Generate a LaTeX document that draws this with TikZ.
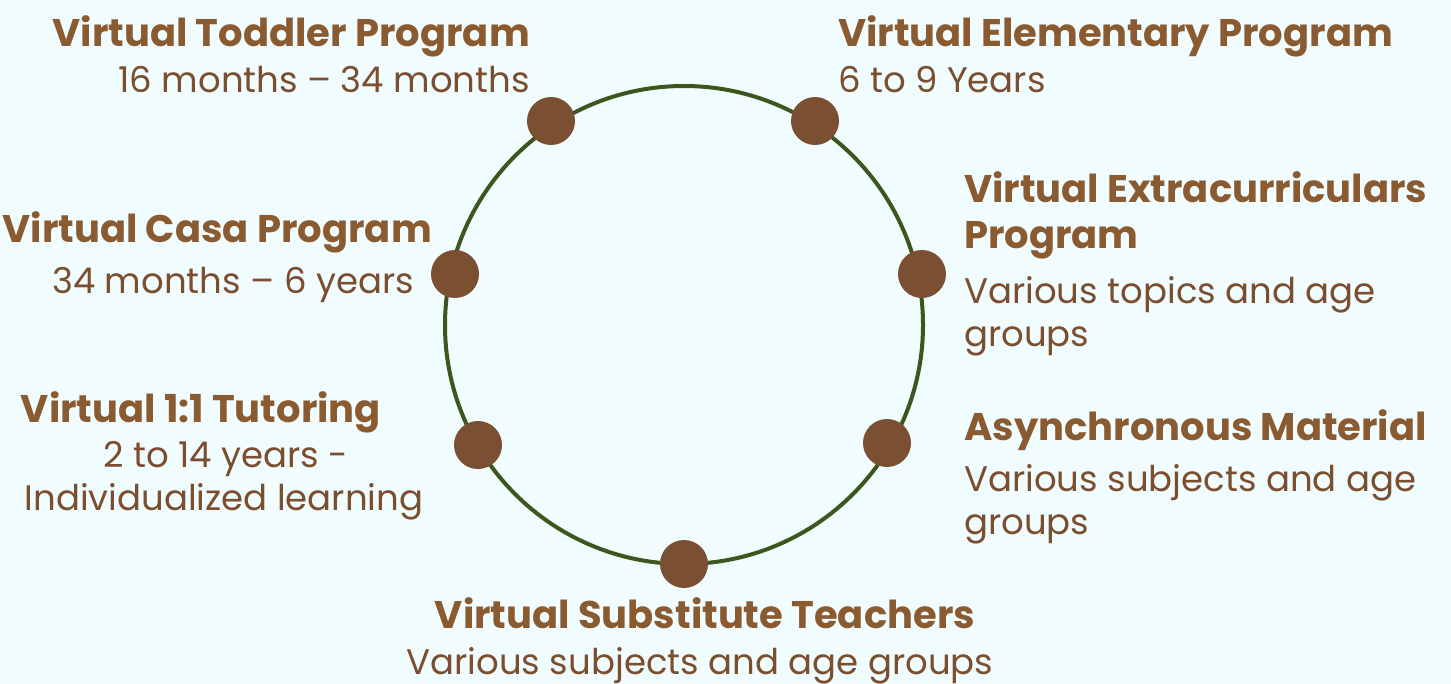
\documentclass[tikz,border=0pt]{standalone}
\usepackage{fontspec}
\setmainfont{Poppins}
\usepackage{tikz}
\definecolor{bgcol}{HTML}{F0FCFD}
\definecolor{titlecol}{HTML}{8A5A30}
\definecolor{subcol}{HTML}{7A4E2F}
\definecolor{dotcol}{HTML}{7A4F32}
\definecolor{ringcol}{HTML}{3C561E}
\begin{document}
\begin{tikzpicture}[x=1pt, y=-1pt,
    title/.style={inner sep=0pt, text=titlecol, font=\fontsize{38.5}{44}\selectfont\bfseries},
    sub/.style={inner sep=0pt, text=subcol, font=\fontsize{35.5}{44}\selectfont},
    dot/.style={circle, fill=dotcol, minimum size=48pt, inner sep=0pt}]
            %% Background
            \fill[bgcol] (0, 0) rectangle (1451, 684);
            \useasboundingbox (0, 0) rectangle (1451, 684);

            % Ring
            \coordinate (hub) at (684, 325);
            \draw[ringcol, line width=4pt] (hub) circle (239);

            %% Dots on the ring
            \node[dot] (toddler_dot) at (551, 121) {};
            \node[dot] (elem_dot) at (815, 121) {};
            \node[dot] (extra_dot) at (922, 274) {};
            \node[dot] (async_dot) at (887, 443) {};
            \node[dot] (subst_dot) at (684, 564) {};
            \node[dot] (tutor_dot) at (478, 445) {};
            \node[dot] (casa_dot) at (455, 274) {};

            %% Labels
            % left side
            \node[title, anchor=base east] (toddler) at (530, 47) {Virtual Toddler Program};
            \node[sub, anchor=base east] (toddler_age) at (530, 93) {16 months – 34 months};

            \node[title, anchor=base east] (casa) at (432, 243) {Virtual Casa Program};
            \node[sub, anchor=base east] (casa_age) at (414, 294) {34 months – 6 years};

            \node[title, anchor=base] (tutor) at (201, 422) {Virtual 1:1 Tutoring};
            \node[sub, anchor=base] (tutor_age) at (226, 467) {2 to 14 years -};
            \node[sub, anchor=base] (tutor_info) at (224, 510) {Individualized learning};

            % right side
            \node[title, anchor=base west] (elem) at (838, 47) {Virtual Elementary Program};
            \node[sub, anchor=base west] (elem_age) at (838, 93) {6 to 9 Years};

            \node[title, anchor=base west] (extra) at (964, 203) {Virtual Extracurriculars};
            \node[title, anchor=base west] (extra_2) at (964, 249) {Program};
            \node[sub, anchor=base west] (extra_age) at (964, 304) {Various topics and age};
            \node[sub, anchor=base west] (extra_age_2) at (964, 347) {groups};

            \node[title, anchor=base west] (async) at (964, 440) {Asynchronous Material};
            \node[sub, anchor=base west] (async_age) at (964, 491) {Various subjects and age};
            \node[sub, anchor=base west] (async_age_2) at (964, 534) {groups};

            % bottom
            \node[title, anchor=base] (subst) at (705, 628) {Virtual Substitute Teachers};
            \node[sub, anchor=base] (subst_age) at (700, 674) {Various subjects and age groups};
\end{tikzpicture}
\end{document}
